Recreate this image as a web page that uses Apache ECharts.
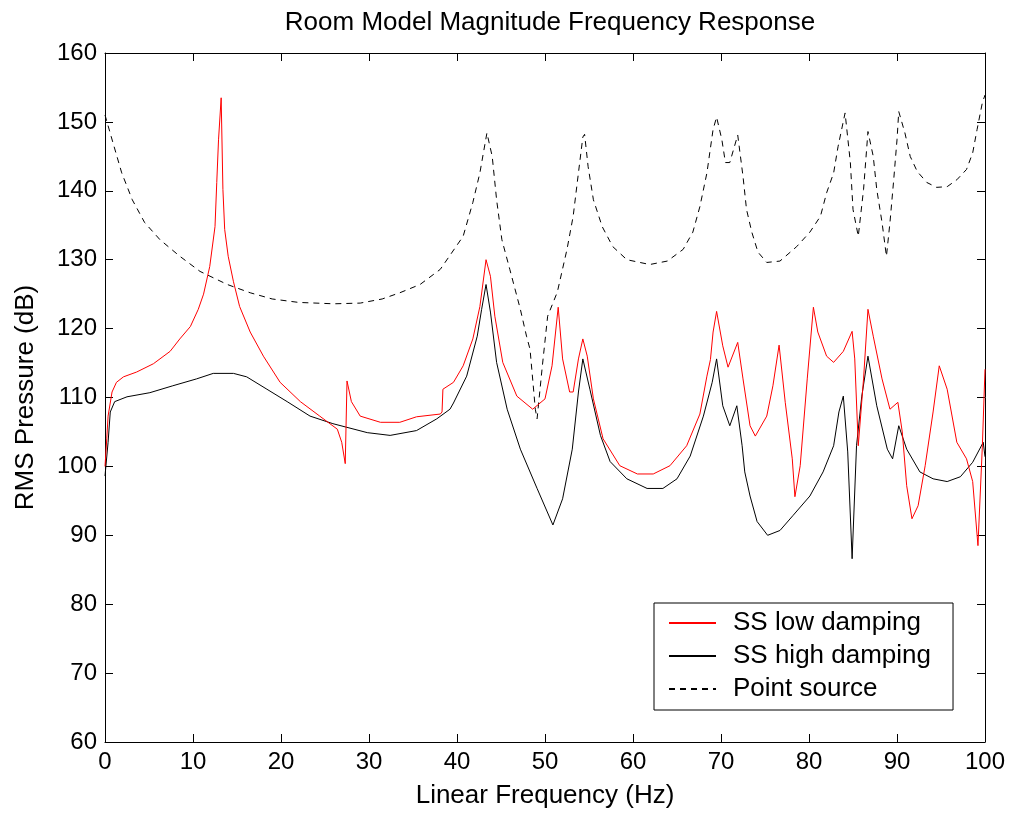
<!DOCTYPE html>
<html>
<head>
<meta charset="utf-8">
<script src="https://cdn.jsdelivr.net/npm/echarts@6/dist/echarts.min.js"></script>
<style>
html,body{margin:0;padding:0;background:#fff;}
#chart{width:1014px;height:814px;}
</style>
</head>
<body>
<div id="chart"></div>
<script>
// ---- Data ----
const titleText = 'Room Model Magnitude Frequency Response';
const xName = 'Linear Frequency (Hz)';
const yName = 'RMS Pressure (dB)';
const seriesNames = ['SS low damping', 'SS high damping', 'Point source'];

const lowFreq = [0, 0.2, 0.35, 0.8, 1.3, 2.1, 3.6, 5.5, 7.4, 8.5, 9.7, 10.6, 11.2, 11.9, 12.5, 12.7, 12.9, 13.2, 13.4, 13.6, 14.0, 14.6, 15.3, 16.5, 18.0, 19.9, 22.2, 24.4, 26.4, 26.9, 27.3, 27.5, 27.6, 28.0, 29.0, 31.3, 33.5, 35.4, 38.1, 38.3, 38.4, 39.6, 40.7, 41.8, 42.6, 43.3, 43.8, 44.3, 45.2, 46.8, 48.6, 50.0, 50.8, 51.5, 52.0, 52.8, 53.2, 53.8, 54.3, 54.8, 55.5, 56.6, 58.5, 60.5, 62.3, 64.2, 66.1, 67.6, 68.4, 68.8, 69.1, 69.5, 70.2, 70.8, 71.9, 72.5, 73.3, 73.9, 75.2, 75.9, 76.6, 77.3, 78.1, 78.4, 79.0, 79.8, 80.5, 81.0, 82.0, 82.8, 83.9, 84.9, 85.2, 85.6, 86.2, 86.7, 87.3, 88.3, 89.2, 90.1, 90.6, 91.1, 91.7, 92.4, 93.2, 94.1, 94.8, 95.7, 96.8, 97.9, 98.6, 99.2, 99.7, 100];
const lowDb = [100, 104, 107.3, 110.8, 112.2, 113, 113.7, 114.9, 116.7, 118.5, 120.3, 122.8, 125, 129, 134.8, 141.2, 147.4, 153.5, 140.2, 134.4, 130.5, 126.8, 123.2, 119.5, 116, 112.2, 109.4, 107.3, 105.4, 103.5, 100.4, 112.4, 112.4, 109.4, 107.3, 106.4, 106.4, 107.2, 107.6, 107.9, 111.2, 112.2, 114.6, 118.5, 123.2, 130, 127.6, 121.8, 115.1, 110.2, 108.3, 109.8, 114.6, 123.1, 115.6, 110.8, 110.8, 115.6, 118.5, 116, 109.8, 104, 100.1, 98.9, 98.9, 100.1, 103, 107.6, 113.1, 115.5, 119.5, 122.5, 117.5, 114.4, 118, 112.7, 105.9, 104.4, 107.3, 111.7, 117.6, 109.3, 101.1, 95.6, 100.1, 112.7, 123.1, 119.5, 116, 115.1, 116.7, 119.6, 115.6, 103, 112.7, 122.8, 118.9, 112.7, 108.3, 109.3, 105, 97.2, 92.4, 94.3, 100.1, 107.9, 114.6, 111.2, 103.5, 101.1, 97.8, 88.5, 103, 114.1];

const highFreq = [0, 0.35, 0.6, 1.1, 2.5, 5.1, 7.7, 10.4, 12.3, 14.6, 16.1, 18.4, 20.7, 23.3, 25.9, 29.8, 32.4, 35.4, 37.7, 39.2, 39.6, 41.1, 42.3, 42.8, 43.3, 43.8, 44.5, 45.7, 47.2, 49.1, 50.9, 52.0, 53.1, 53.8, 54.3, 55.1, 56.3, 57.4, 59.3, 61.6, 63.4, 65.0, 66.5, 68.0, 69.0, 69.5, 70.2, 71.0, 71.8, 72.4, 72.7, 73.3, 74.1, 75.3, 76.7, 78.2, 80.1, 81.6, 82.8, 83.4, 83.9, 84.4, 84.9, 85.4, 86.0, 86.7, 87.7, 88.9, 89.5, 90.2, 91.1, 92.6, 94.1, 95.7, 97.2, 98.6, 99.8, 100];
const highDb = [98.6, 103.5, 107.9, 109.4, 110.1, 110.7, 111.7, 112.7, 113.5, 113.5, 113, 111.2, 109.4, 107.3, 106.2, 104.9, 104.5, 105.2, 106.9, 108.3, 109.2, 113.1, 118.9, 122.8, 126.4, 122.4, 115.1, 108.3, 102.5, 96.8, 91.5, 95.3, 102.5, 110.8, 115.6, 111.2, 104.5, 100.7, 98.2, 96.8, 96.8, 98.2, 101.5, 107.3, 112.2, 115.6, 108.8, 105.9, 108.8, 103, 99.2, 95.7, 92, 90, 90.7, 92.9, 95.7, 99.2, 103, 107.9, 110.2, 102.1, 86.6, 103, 110.2, 116, 108.8, 102.5, 101.1, 105.9, 102.5, 99.2, 98.2, 97.8, 98.5, 100.6, 103.5, 101.4];

const pointFreq = [0, 0.9, 1.9, 3.1, 4.5, 6.25, 8.5, 10.8, 13.9, 16.5, 19, 22, 26, 29, 31.5, 33.5, 35.8, 38.1, 40.7, 41.8, 42.6, 43.4, 43.6, 44.0, 44.5, 45.1, 46.0, 47.2, 47.9, 48.3, 48.9, 49.1, 49.7, 50.3, 51.4, 52.5, 53.2, 53.8, 54.3, 54.5, 54.9, 55.5, 56.5, 57.7, 59.3, 61.9, 63.9, 65.7, 66.8, 67.6, 68.4, 69.1, 69.5, 70.1, 70.5, 71.0, 71.9, 72.5, 72.9, 73.5, 74.2, 75.2, 76.7, 78.6, 80.1, 81.3, 82.0, 82.8, 83.3, 84.1, 84.7, 85.0, 85.6, 86.2, 86.7, 87.3, 87.7, 88.3, 88.8, 89.2, 89.6, 90.0, 90.2, 90.9, 91.5, 92.3, 93.4, 94.5, 95.7, 96.8, 97.9, 98.6, 99.1, 99.7, 100];
const pointDb = [151, 147, 142.6, 138.7, 135.4, 132.9, 130.5, 128.3, 126.4, 125.2, 124.3, 123.8, 123.6, 123.7, 124.3, 125.2, 126.4, 128.6, 133.4, 138.3, 142.6, 148.4, 148.6, 145, 138.7, 132.9, 128.6, 122.8, 118.9, 117, 108.3, 106.9, 114.6, 121.8, 125.3, 131.5, 136.3, 142.6, 147.8, 148.2, 143.5, 138.7, 134.8, 131.9, 130, 129.3, 129.8, 131.5, 134, 137.7, 142.6, 148.9, 150.7, 147.4, 144.1, 144.1, 148.1, 142.1, 137.3, 134, 131.1, 129.6, 129.8, 131.9, 134, 136.3, 139.7, 142.6, 146.4, 151.3, 144.1, 137.3, 133.4, 140.2, 148.6, 145, 140.2, 135.4, 130.5, 135.4, 141.2, 147.4, 151.5, 148.4, 145, 142.8, 141.2, 140.5, 140.6, 141.6, 143.1, 145.5, 148.9, 152.8, 153.9];

const xMin = 0, xMax = 100, xStep = 10;
const yMin = 60, yMax = 160, yStep = 10;

// ---- Chart ----
const FONT = '"Liberation Sans", Arial, Helvetica, sans-serif';
const zip = (a, b) => a.map((v, i) => [v, b[i]]);

const chart = echarts.init(document.getElementById('chart'), null, {renderer: 'canvas'});

const axisCommon = {
  axisLine: {show: true, onZero: false, lineStyle: {color: '#000', width: 1}},
  axisTick: {show: true, inside: true, length: 8, lineStyle: {color: '#000', width: 1}},
  splitLine: {show: false},
  minorTick: {show: false}
};

const option = {
  animation: false,
  backgroundColor: '#fff',
  title: {
    text: titleText,
    left: 545,
    top: 5,
    textAlign: 'center',
    textStyle: {fontFamily: FONT, fontSize: 26, fontWeight: 'normal', color: '#000'}
  },
  legend: {
    left: 654,
    top: 603,
    orient: 'vertical',
    itemWidth: 47,
    itemHeight: 12,
    itemGap: 7,
    padding: [7, 22, 8, 14],
    borderColor: '#000',
    borderWidth: 1,
    borderRadius: 0,
    backgroundColor: '#fff',
    itemStyle: {color: 'transparent', borderColor: 'transparent', borderWidth: 0, opacity: 0},
    textStyle: {fontFamily: FONT, fontSize: 26, color: '#000', lineHeight: 26, padding: [0, 0, 0, 12]},
    data: seriesNames
  },
  grid: {left: 105, right: 29, top: 53, bottom: 70},
  xAxis: [
    Object.assign({}, axisCommon, {
      type: 'value', position: 'bottom', min: xMin, max: xMax, interval: xStep,
      name: xName, nameLocation: 'middle', nameGap: 41,
      nameTextStyle: {fontFamily: FONT, fontSize: 26, color: '#000'},
      axisLabel: {fontFamily: FONT, fontSize: 24, color: '#000', margin: 8}
    }),
    Object.assign({}, axisCommon, {
      type: 'value', position: 'top', min: xMin, max: xMax, interval: xStep,
      axisLabel: {show: false}
    })
  ],
  yAxis: [
    Object.assign({}, axisCommon, {
      type: 'value', position: 'left', min: yMin, max: yMax, interval: yStep,
      name: yName, nameLocation: 'middle', nameGap: 66, nameRotate: 90,
      nameTextStyle: {fontFamily: FONT, fontSize: 26, color: '#000'},
      axisLabel: {fontFamily: FONT, fontSize: 24, color: '#000', margin: 8}
    }),
    Object.assign({}, axisCommon, {
      type: 'value', position: 'right', min: yMin, max: yMax, interval: yStep,
      axisLabel: {show: false}
    })
  ],
  series: [
    {
      name: seriesNames[0], type: 'line', xAxisIndex: 0, yAxisIndex: 0,
      data: zip(lowFreq, lowDb), symbol: 'none', smooth: false, z: 3,
      lineStyle: {color: '#ff0000', width: 1}, itemStyle: {color: '#ff0000'}
    },
    {
      name: seriesNames[1], type: 'line', xAxisIndex: 0, yAxisIndex: 0,
      data: zip(highFreq, highDb), symbol: 'none', smooth: false, z: 2,
      lineStyle: {color: '#000000', width: 1}, itemStyle: {color: '#000000'}
    },
    {
      name: seriesNames[2], type: 'line', xAxisIndex: 0, yAxisIndex: 0,
      data: zip(pointFreq, pointDb), symbol: 'none', smooth: false, z: 1,
      lineStyle: {color: '#000000', width: 1, type: [6, 5]}, itemStyle: {color: '#000000'}
    }
  ]
};
chart.setOption(option);
</script>
</body>
</html>
